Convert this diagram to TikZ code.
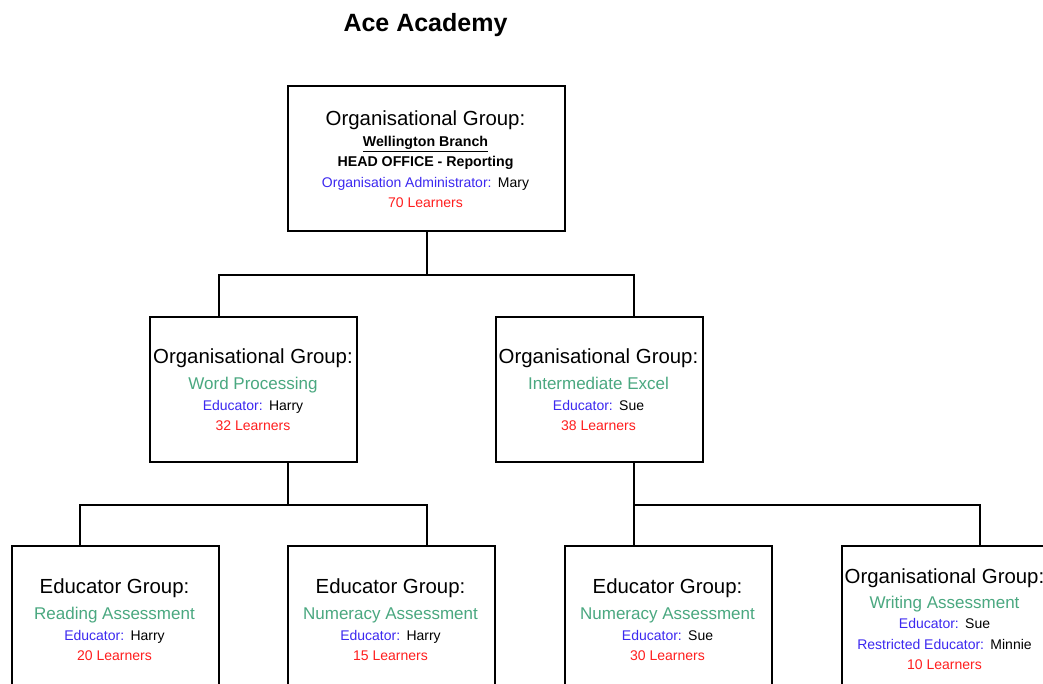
\documentclass[tikz,border=0pt]{standalone}
\usepackage{fontspec}
\setmainfont{Liberation Sans}
\definecolor{grn}{RGB}{74,168,128}
\definecolor{edu}{RGB}{60,40,240}
\definecolor{lrn}{RGB}{255,30,30}
\begin{document}
\begin{tikzpicture}[x=1pt,y=-1pt,
  box/.style={draw=black,line width=2pt,fill=white,rectangle,anchor=north west,inner sep=0pt,minimum width=207pt,minimum height=145pt},
  link/.style={draw=black,line width=2pt},
  ttl/.style={font=\fontsize{25pt}{29pt}\selectfont\bfseries,anchor=base,inner sep=0pt},
  hd/.style={font=\fontsize{20.4pt}{24pt}\selectfont,anchor=base,inner sep=0pt},
  sub/.style={font=\fontsize{17pt}{20pt}\selectfont,text=grn,anchor=base,inner sep=0pt},
  sm/.style={font=\fontsize{14pt}{17pt}\selectfont,anchor=base,inner sep=0pt},
  smb/.style={font=\fontsize{14.2pt}{17pt}\selectfont\bfseries,anchor=base,inner sep=0pt},
  lr/.style={font=\fontsize{14pt}{17pt}\selectfont,text=lrn,anchor=base,inner sep=0pt}]
\useasboundingbox (0,0) rectangle (1043,684);
\clip (0,0) rectangle (1043,684);

\node[ttl] (title) at (425.5,32) {Ace Academy};

% boxes
\node[box,minimum width=277pt] (top) at (287,85) {};
\node[box] (wp) at (149,316) {};
\node[box] (ie) at (495,316) {};
\node[box,minimum height=160pt] (ra) at (11,545) {};
\node[box,minimum height=160pt] (na1) at (287,545) {};
\node[box,minimum height=160pt] (na2) at (564,545) {};
\node[box,minimum height=160pt] (wa) at (841,545) {};

% connectors
\draw[link] (top.south) -- ++(0,43) -| ([xshift=-35pt]wp.north);
\draw[link] (top.south) -- ++(0,43) -| ([xshift=34.5pt]ie.north);
\draw[link] ([xshift=34pt]wp.south) -- ++(0,42) -| ([xshift=-35.5pt]ra.north);
\draw[link] ([xshift=34pt]wp.south) -- ++(0,42) -| ([xshift=35.5pt]na1.north);
\draw[link] ([xshift=34.5pt]ie.south) -- ([xshift=-34.5pt]na2.north);
\draw[link] ([xshift=34.5pt]ie.south) -- ++(0,42) -| ([xshift=34.5pt]wa.north);

% top box text
\node[hd] (t1) at (425.5,126) {Organisational Group:};
\node[smb] (t2) at (425.5,146.5) {\underline{Wellington Branch}};
\node[smb] (t3) at (425.5,167) {HEAD OFFICE - Reporting};
\node[sm] (t4) at (425.5,188) {{\color{edu}Organisation Administrator:}\hspace{0.45em}Mary};
\node[lr] (t5) at (425.5,208) {70 Learners};

% word processing
\node[hd] (w1) at (253,363) {Organisational Group:};
\node[sub] (w2) at (253,389) {Word Processing};
\node[sm] (w3) at (253,410) {{\color{edu}Educator:}\hspace{0.45em}Harry};
\node[lr] (w4) at (253,430.5) {32 Learners};

% intermediate excel
\node[hd] (i1) at (598.5,363) {Organisational Group:};
\node[sub] (i2) at (598.5,389) {Intermediate Excel};
\node[sm] (i3) at (598.5,410) {{\color{edu}Educator:}\hspace{0.45em}Sue};
\node[lr] (i4) at (598.5,430.5) {38 Learners};

% reading assessment
\node[hd] (r1) at (114.5,593) {Educator Group:};
\node[sub] (r2) at (114.5,619) {Reading Assessment};
\node[sm] (r3) at (114.5,640) {{\color{edu}Educator:}\hspace{0.45em}Harry};
\node[lr] (r4) at (114.5,660.5) {20 Learners};

% numeracy 1
\node[hd] (n1) at (390.5,593) {Educator Group:};
\node[sub] (n2) at (390.5,619) {Numeracy Assessment};
\node[sm] (n3) at (390.5,640) {{\color{edu}Educator:}\hspace{0.45em}Harry};
\node[lr] (n4) at (390.5,660.5) {15 Learners};

% numeracy 2
\node[hd] (m1) at (667.5,593) {Educator Group:};
\node[sub] (m2) at (667.5,619) {Numeracy Assessment};
\node[sm] (m3) at (667.5,640) {{\color{edu}Educator:}\hspace{0.45em}Sue};
\node[lr] (m4) at (667.5,660.5) {30 Learners};

% writing assessment
\node[hd] (x1) at (944.5,583) {Organisational Group:};
\node[sub] (x2) at (944.5,608) {Writing Assessment};
\node[sm] (x3) at (944.5,628.5) {{\color{edu}Educator:}\hspace{0.45em}Sue};
\node[sm] (x4) at (944.5,649) {{\color{edu}Restricted Educator:}\hspace{0.45em}Minnie};
\node[lr] (x5) at (944.5,669.5) {10 Learners};
\end{tikzpicture}
\end{document}
